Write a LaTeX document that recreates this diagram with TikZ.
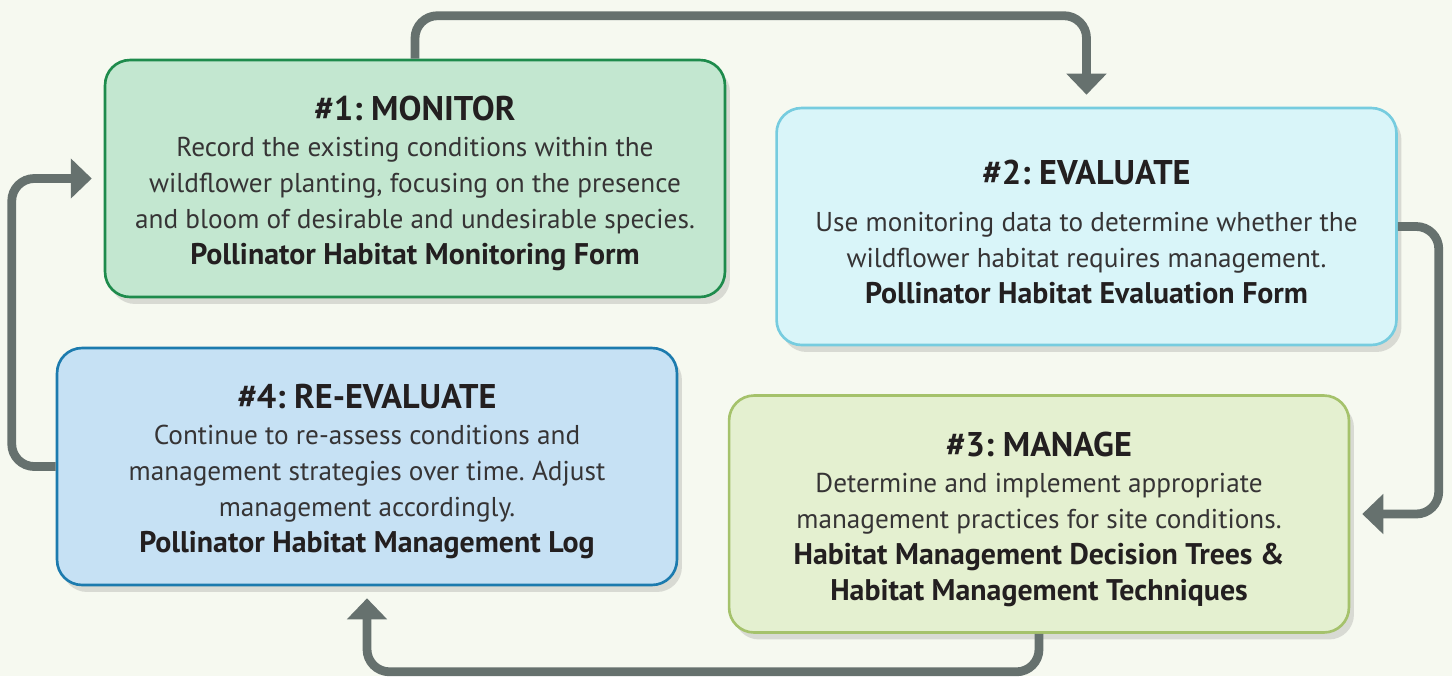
\documentclass[tikz,border=0pt]{standalone}
\usepackage{fontspec}
\setmainfont{PT Sans}
\usetikzlibrary{arrows.meta,shadows,positioning}
\definecolor{pagebg}{HTML}{F6F9F0}
\definecolor{linkgrey}{HTML}{66716E}
\definecolor{inktext}{HTML}{363435}
\definecolor{inkhead}{HTML}{231F20}
\definecolor{monfill}{HTML}{C3E7D0}
\definecolor{mondraw}{HTML}{1E8B4C}
\definecolor{evalfill}{HTML}{D9F5F9}
\definecolor{evaldraw}{HTML}{76CCDF}
\definecolor{manfill}{HTML}{E4F0D0}
\definecolor{mandraw}{HTML}{A5C26B}
\definecolor{reevfill}{HTML}{C6E1F4}
\definecolor{reevdraw}{HTML}{1C7BAE}
\newcommand{\stagehead}[1]{{\color{inkhead}\bfseries\fontsize{19.5}{22}\selectfont\rule{0pt}{20pt}#1}}
\newcommand{\stageform}[1]{{\color{inkhead}\bfseries\fontsize{17}{20.5}\selectfont #1}}
\frenchspacing

\begin{document}
\begin{tikzpicture}
[x=0.02cm,y=-0.02cm,
stage/.style={rectangle,rounded corners=0.5cm,line width=1.5pt,minimum width=12.4cm,minimum height=4.74cm,inner sep=0pt,align=center,text=inktext,font=\fontsize{15.5}{20.5}\selectfont,drop shadow={opacity=0.25,shadow xshift=0.1cm,shadow yshift=-0.14cm}},
flow/.style={draw=linkgrey,line width=5pt,rounded corners=0.45cm,shorten >=0.24cm,-{Triangle[width=0.78cm,length=0.42cm]}}]
\fill[pagebg] (0,0) rectangle (1452,676);

\node[stage,fill=monfill,draw=mondraw] (monitor) at (415,178.5)
  {\stagehead{\#1: MONITOR}\\
   Record the existing conditions within the\\
   wildflower planting, focusing on the presence\\
   and bloom of desirable and undesirable species.\\
   \stageform{Pollinator Habitat Monitoring Form}};
\node[stage,fill=evalfill,draw=evaldraw] (evaluate) at (1086.5,226.5)
  {\stagehead{\#2: EVALUATE}\\[6pt]
   Use monitoring data to determine whether the\\
   wildflower habitat requires management.\\
   \stageform{Pollinator Habitat Evaluation Form}};
\node[stage,fill=manfill,draw=mandraw] (manage) at (1039,514)
  {\stagehead{\#3: MANAGE}\\
   Determine and implement appropriate\\
   management practices for site conditions.\\
   \stageform{Habitat Management Decision Trees \&}\\
   \stageform{Habitat Management Techniques}};
\node[stage,fill=reevfill,draw=reevdraw] (reeval) at (367,466.5)
  {\stagehead{\#4: RE-EVALUATE}\\
   Continue to re-assess conditions and\\
   management strategies over time. Adjust\\
   management accordingly.\\
   \stageform{Pollinator Habitat Management Log}};

\draw[flow] (monitor.north) -- ++(0,-43) -| (evaluate.north);
\draw[flow] (evaluate.east) -- ++(41,0) |- (manage.east);
\draw[flow] (manage.south) -- ++(0,38) -| (reeval.south);
\draw[flow] (reeval.west) -- ++(-44,0) |- (monitor.west);
\end{tikzpicture}
\end{document}
